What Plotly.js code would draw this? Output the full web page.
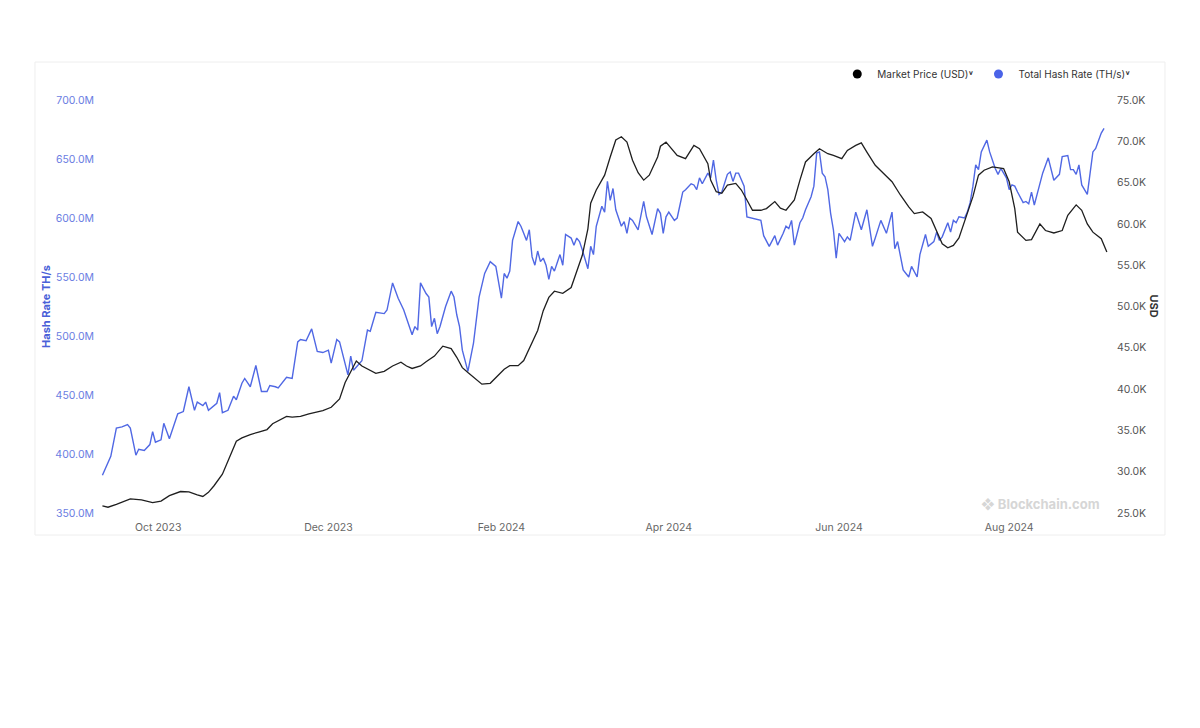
<!DOCTYPE html>
<html>
<head>
<meta charset="utf-8">
<script src="https://cdn.plot.ly/plotly-3.0.1.min.js"></script>
<style>html,body{margin:0;padding:0;background:#fff;}#chart{width:1200px;height:728px;}</style>
</head>
<body>
<div id="chart"></div>
<script>
// Total Hash Rate (millions of TH/s)
var hashDates = [
"2023-09-11","2023-09-14","2023-09-16","2023-09-18","2023-09-20","2023-09-21","2023-09-23","2023-09-24","2023-09-26","2023-09-28","2023-09-29","2023-09-30",
"2023-10-02","2023-10-03","2023-10-05","2023-10-06","2023-10-08","2023-10-10","2023-10-12","2023-10-14","2023-10-15","2023-10-17","2023-10-18","2023-10-19","2023-10-21","2023-10-22","2023-10-23","2023-10-24","2023-10-26","2023-10-28","2023-10-29","2023-10-31",
"2023-11-01","2023-11-03","2023-11-05","2023-11-07","2023-11-09","2023-11-10","2023-11-12","2023-11-13","2023-11-16","2023-11-18","2023-11-20","2023-11-21","2023-11-23","2023-11-25","2023-11-27","2023-11-29",
"2023-12-01","2023-12-02","2023-12-04","2023-12-05","2023-12-08","2023-12-09","2023-12-10","2023-12-11","2023-12-13","2023-12-15","2023-12-16","2023-12-18","2023-12-21","2023-12-22","2023-12-24","2023-12-26","2023-12-28","2023-12-30","2023-12-31",
"2024-01-01","2024-01-02","2024-01-03","2024-01-05","2024-01-06","2024-01-07","2024-01-08","2024-01-09","2024-01-10","2024-01-12","2024-01-14","2024-01-15","2024-01-16","2024-01-17","2024-01-18","2024-01-20","2024-01-22","2024-01-24","2024-01-26","2024-01-28","2024-01-30","2024-01-31",
"2024-02-01","2024-02-02","2024-02-03","2024-02-04","2024-02-05","2024-02-07","2024-02-08","2024-02-09","2024-02-10","2024-02-11","2024-02-12","2024-02-13","2024-02-14","2024-02-15","2024-02-16","2024-02-17","2024-02-18","2024-02-19","2024-02-20","2024-02-21","2024-02-22","2024-02-23","2024-02-24","2024-02-26","2024-02-27","2024-02-28","2024-02-29",
"2024-03-01","2024-03-03","2024-03-04","2024-03-05","2024-03-06","2024-03-08","2024-03-09","2024-03-10","2024-03-11","2024-03-12","2024-03-13","2024-03-15","2024-03-16","2024-03-17","2024-03-18","2024-03-19","2024-03-21","2024-03-23","2024-03-24","2024-03-26","2024-03-28","2024-03-29","2024-03-30","2024-03-31",
"2024-04-01","2024-04-03","2024-04-04","2024-04-06","2024-04-07","2024-04-09","2024-04-10","2024-04-11","2024-04-12","2024-04-13","2024-04-15","2024-04-16","2024-04-17","2024-04-18","2024-04-19","2024-04-20","2024-04-22","2024-04-23","2024-04-24","2024-04-25","2024-04-26","2024-04-28","2024-04-29",
"2024-05-01","2024-05-04","2024-05-05","2024-05-07","2024-05-09","2024-05-10","2024-05-12","2024-05-13","2024-05-14","2024-05-15","2024-05-16","2024-05-18","2024-05-19","2024-05-20","2024-05-22","2024-05-23","2024-05-24","2024-05-25","2024-05-26","2024-05-27","2024-05-28","2024-05-29","2024-05-30","2024-05-31",
"2024-06-01","2024-06-03","2024-06-04","2024-06-05","2024-06-07","2024-06-09","2024-06-11","2024-06-13","2024-06-14","2024-06-16","2024-06-18","2024-06-20","2024-06-21","2024-06-22","2024-06-24","2024-06-26","2024-06-27","2024-06-29","2024-06-30",
"2024-07-02","2024-07-03","2024-07-05","2024-07-06","2024-07-07","2024-07-08","2024-07-10","2024-07-11","2024-07-12","2024-07-13","2024-07-14","2024-07-16","2024-07-17","2024-07-18","2024-07-19","2024-07-20","2024-07-21","2024-07-22","2024-07-24","2024-07-25","2024-07-26","2024-07-27","2024-07-28","2024-07-29","2024-07-31",
"2024-08-01","2024-08-02","2024-08-03","2024-08-04","2024-08-06","2024-08-07","2024-08-08","2024-08-09","2024-08-10","2024-08-11","2024-08-13","2024-08-15","2024-08-16","2024-08-17","2024-08-19","2024-08-20","2024-08-22","2024-08-23","2024-08-24","2024-08-25","2024-08-26","2024-08-27","2024-08-29","2024-08-30","2024-08-31",
"2024-09-01","2024-09-02","2024-09-03","2024-09-04"
];
var hashRateM = [
382,398,422,423,425,422,399,404,403,408,419,410,
412,426,413,420,434,436,457,437,444,441,444,437,441,443,452,435,437,449,446,460,
464,457,475,453,453,458,457,456,465,464,495,497,496,506,487,486,
488,477,497,495,467,483,471,474,479,505,504,520,519,522,545,532,522,508,501,
508,505,545,536,533,508,515,502,508,525,538,533,518,508,488,470,494,533,553,563,559,545,
532,553,549,555,581,597,593,587,581,590,567,560,572,563,566,560,548,559,555,562,569,560,586,583,577,583,580,
573,557,576,569,593,610,605,631,615,625,607,593,597,587,600,598,590,614,601,586,608,604,587,601,
605,598,600,622,624,629,628,624,634,629,638,634,649,632,620,622,637,639,631,638,638,627,601,
600,598,585,576,585,577,587,593,591,598,577,596,600,607,618,627,655,656,638,635,624,604,590,566,
587,580,584,581,605,590,607,576,583,598,587,605,574,580,556,550,559,550,569,
586,576,580,588,581,584,596,588,598,596,601,600,605,613,627,645,641,656,666,656,648,642,637,642,634,
624,628,627,622,613,614,612,622,611,620,638,651,641,632,637,652,653,641,641,637,645,628,620,637,656,
659,666,672,676
];

// Market Price (thousands of USD)
var priceDates = [
"2023-09-11","2023-09-13","2023-09-16","2023-09-21","2023-09-25","2023-09-29",
"2023-10-02","2023-10-05","2023-10-09","2023-10-12","2023-10-15","2023-10-17","2023-10-19","2023-10-21","2023-10-24","2023-10-27","2023-10-29","2023-10-31",
"2023-11-03","2023-11-06","2023-11-09","2023-11-11","2023-11-14","2023-11-16","2023-11-18","2023-11-21","2023-11-24","2023-11-27","2023-11-29",
"2023-12-02","2023-12-05","2023-12-07","2023-12-09","2023-12-11","2023-12-13","2023-12-15","2023-12-18","2023-12-21","2023-12-24","2023-12-27","2023-12-29","2023-12-31",
"2024-01-03","2024-01-05","2024-01-08","2024-01-11","2024-01-14","2024-01-16","2024-01-18","2024-01-20","2024-01-23","2024-01-25","2024-01-28","2024-01-30",
"2024-02-02","2024-02-04","2024-02-07","2024-02-09","2024-02-11","2024-02-14","2024-02-16","2024-02-18","2024-02-20","2024-02-23","2024-02-26","2024-02-28",
"2024-03-01","2024-03-03","2024-03-04","2024-03-06","2024-03-09","2024-03-11","2024-03-13","2024-03-15","2024-03-17","2024-03-19","2024-03-21","2024-03-23","2024-03-25","2024-03-28","2024-03-29","2024-03-31",
"2024-04-02","2024-04-04","2024-04-07","2024-04-10","2024-04-12","2024-04-15","2024-04-16","2024-04-18","2024-04-20","2024-04-22","2024-04-25","2024-04-27","2024-04-29",
"2024-05-01","2024-05-04","2024-05-06","2024-05-09","2024-05-11","2024-05-13","2024-05-16","2024-05-18","2024-05-20","2024-05-23","2024-05-25","2024-05-28","2024-05-30",
"2024-06-02","2024-06-04","2024-06-07","2024-06-09","2024-06-11","2024-06-14","2024-06-17","2024-06-20","2024-06-23","2024-06-26","2024-06-28",
"2024-07-01","2024-07-04","2024-07-06","2024-07-08","2024-07-10","2024-07-12","2024-07-14","2024-07-16","2024-07-19","2024-07-21","2024-07-23","2024-07-26","2024-07-30",
"2024-08-01","2024-08-03","2024-08-04","2024-08-07","2024-08-09","2024-08-12","2024-08-14","2024-08-17","2024-08-20","2024-08-22","2024-08-25","2024-08-27","2024-08-29","2024-08-31",
"2024-09-03","2024-09-05"
];
var priceK = [
25.85,25.7,26.05,26.7,26.6,26.25,
26.45,27.1,27.6,27.55,27.2,27.0,27.5,28.3,29.7,32.1,33.7,34.1,
34.5,34.8,35.1,35.8,36.4,36.7,36.6,36.7,37.0,37.2,37.4,
37.8,38.8,40.8,42.2,43.4,42.8,42.4,41.9,42.15,42.8,43.25,42.8,42.5,
42.8,43.3,44.0,45.2,44.9,43.85,42.6,42.0,41.2,40.6,40.7,41.4,
42.4,42.84,42.84,43.45,44.87,47.1,49.5,51.1,51.85,51.6,52.3,54.3,
56.2,59.4,62.5,64.1,65.9,68.1,70.15,70.55,69.9,67.7,66.2,65.3,65.9,68.1,69.4,69.9,
69.1,68.3,67.9,69.5,69.1,67.3,65.3,63.9,63.7,64.7,64.9,64.1,62.9,
61.65,61.65,61.85,62.7,61.9,61.65,62.9,65.3,67.5,68.5,69.1,68.5,68.3,
67.9,68.9,69.5,69.8,68.7,67.1,66.1,65.1,63.5,62.05,61.25,
61.45,60.65,59.2,57.6,57.1,57.4,58.3,60.2,63.3,65.9,66.5,66.9,66.7,
65.1,61.85,59.0,58.0,58.1,60.0,59.2,58.9,59.2,61.05,62.3,61.65,60.0,59.0,
58.2,56.6
];

var seriesNames = ["Market Price (USD)", "Total Hash Rate (TH/s)"];
var chevron = "<b>˅</b>";
var colorPrice = "#1f1f1f";
var colorHash = "#5068e4";
var FONT = "Inter, 'Noto Sans', 'DejaVu Sans', sans-serif";

var traces = [
  {x: priceDates, y: priceK, type: "scatter", mode: "lines", yaxis: "y2",
   line: {color: colorPrice, width: 1.3}, showlegend: false, hoverinfo: "skip"},
  {x: hashDates, y: hashRateM, type: "scatter", mode: "lines", yaxis: "y",
   line: {color: colorHash, width: 1.4}, showlegend: false, hoverinfo: "skip"},
  {x: [null], y: [null], type: "scatter", mode: "markers", yaxis: "y2",
   name: seriesNames[0] + chevron, marker: {color: "#000000", size: 9, symbol: "circle"}},
  {x: [null], y: [null], type: "scatter", mode: "markers", yaxis: "y",
   name: seriesNames[1] + chevron, marker: {color: "#4a63e8", size: 9, symbol: "circle"}}
];

var layout = {
  width: 1200, height: 728,
  margin: {l: 98, r: 92, t: 100, b: 215},
  paper_bgcolor: "#ffffff", plot_bgcolor: "#ffffff",
  font: {family: FONT, size: 10, color: "#444"},
  showlegend: true,
  legend: {orientation: "h", x: 1.027, xanchor: "right", y: 1.063, yanchor: "middle",
           font: {size: 10, color: "#333"}, itemwidth: 30, bgcolor: "rgba(0,0,0,0)", tracegroupgap: 0},
  xaxis: {type: "date", range: ["2023-09-09 10:00", "2024-09-05 10:00"],
          tick0: "2023-10-01", dtick: "M2", tickformat: "%b %Y", ticklabelstandoff: 6,
          tickfont: {size: 10.5, color: "#666"}, showgrid: false, zeroline: false, showline: false, ticks: ""},
  yaxis: {range: [350, 700], tick0: 350, dtick: 50, tickformat: ".1f", ticksuffix: "M",
          tickfont: {size: 10.5, color: "#6a7de2"}, showgrid: false, zeroline: false, showline: false,
          ticks: "", ticklabelstandoff: 3,
          title: {text: "Hash Rate TH/s", standoff: 2, font: {size: 11, color: "#4a60d8", weight: "bold"}}},
  yaxis2: {overlaying: "y", side: "right", range: [25, 75], tick0: 25, dtick: 5, tickformat: ".1f", ticksuffix: "K",
           tickfont: {size: 10.5, color: "#555"}, showgrid: false, zeroline: false, showline: false,
           ticks: "", ticklabelstandoff: 8},
  annotations: [
    {text: "<b>USD</b>", xref: "paper", yref: "paper", x: 1.0465, y: 0.5, textangle: 90,
     showarrow: false, font: {size: 11, color: "#333"}, xanchor: "center", yanchor: "middle"},
    {text: "<b>❖ Blockchain.com</b>", xref: "paper", yref: "paper", x: 0.933, y: 0.022,
     showarrow: false, font: {size: 13, color: "#d6d6d6"}, xanchor: "center", yanchor: "middle"}
  ],
  shapes: [
    {type: "rect", xref: "paper", yref: "paper", x0: -0.0624, x1: 1.0564, y0: -0.0533, y1: 1.092,
     line: {color: "#eeeeee", width: 1}, fillcolor: "rgba(0,0,0,0)", layer: "below"}
  ]
};

Plotly.newPlot("chart", traces, layout, {staticPlot: true, displayModeBar: false});
</script>
</body>
</html>
